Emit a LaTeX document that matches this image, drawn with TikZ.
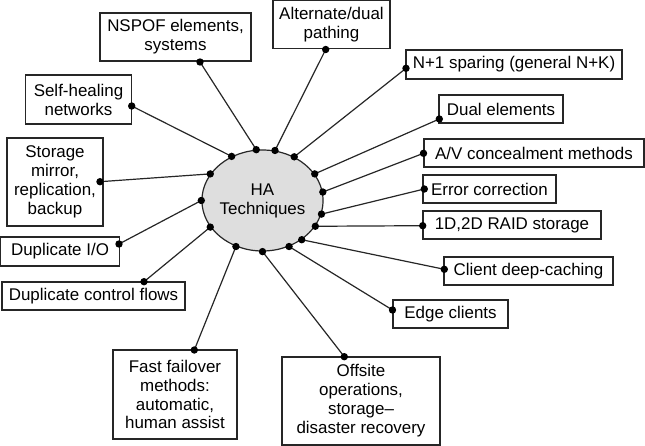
\documentclass[tikz,border=0pt]{standalone}
\usepackage{fontspec}
\setmainfont{Liberation Sans}
\usetikzlibrary{shapes.geometric}
\begin{document}
\begin{tikzpicture}[x=1bp,y=-1bp,
  txt/.style={font=\fontsize{17}{19}\selectfont},
  box/.style={txt, draw=black!85, line width=1.2bp, inner sep=0pt, align=center},
  conn/.style={line width=1.2bp, draw=black!85},
  dotc/.style={fill=black}]
\useasboundingbox (0,0) rectangle (645,446);
% centre
\node[ellipse, draw=black!85, fill=black!13, line width=1.2bp, minimum width=113bp, minimum height=101bp,
      inner sep=0pt, align=center, txt] (E) at (262.5,200.5) {HA\\Techniques};
% boxes
\node[box, minimum width=151bp, minimum height=48bp] (nspof) at (175.5,37) {NSPOF elements,\\systems};
\node[box, minimum width=117bp, minimum height=48bp] (alt) at (331.5,24.3) {Alternate/dual\\pathing};
\node[box, minimum width=216bp, minimum height=29bp] (np1) at (514,64.5) {N+1 sparing (general N+K)};
\node[box, minimum width=124bp, minimum height=28bp] (dual) at (501,109) {Dual elements};
\node[box, minimum width=220bp, minimum height=28bp] (av) at (534,153) {A/V concealment methods};
\node[box, minimum width=133bp, minimum height=28bp] (err) at (489.5,189) {Error correction};
\node[box, minimum width=178bp, minimum height=28bp] (raid) at (512,225) {1D,2D RAID storage};
\node[box, minimum width=169bp, minimum height=28bp] (cli) at (528.5,271) {Client deep-caching};
\node[box, minimum width=115bp, minimum height=28bp] (edge) at (450.5,314) {Edge clients};
\node[box, minimum width=158bp, minimum height=88bp] (off) at (361,401) {Offsite\\operations,\\storage--\\disaster recovery};
\node[box, minimum width=124bp, minimum height=89bp] (fast) at (175,394.5) {Fast failover\\methods:\\automatic,\\human assist};
\node[box, minimum width=183bp, minimum height=28bp] (dcf) at (93.5,296) {Duplicate control flows};
\node[box, minimum width=118.5bp, minimum height=29bp] (dio) at (60,251.5) {Duplicate I/O};
\node[box, minimum width=96bp, minimum height=88bp] (stor) at (55,182) {Storage\\mirror,\\replication,\\backup};
\node[box, minimum width=106bp, minimum height=49bp] (self) at (78.5,99.5) {Self-healing\\networks};
% connector ends on boxes
\coordinate (pnspof) at (200,62);
\coordinate (palt) at (325.7,49.5);
\coordinate (pnp1) at (406,68.3);
\coordinate (pdual) at (439.3,119);
\coordinate (pav) at (423.5,153.3);
\coordinate (perr) at (424.3,189);
\coordinate (praid) at (422.7,225.7);
\coordinate (pcli) at (444.3,269.3);
\coordinate (pedge) at (392.5,310);
\coordinate (poff) at (344.3,356.7);
\coordinate (pfast) at (194.3,350);
\coordinate (pdcf) at (144,281.7);
\coordinate (pdio) at (119,244);
\coordinate (pstor) at (100,181.7);
\coordinate (pself) at (131.7,106);
% connectors
\foreach \a/\p in {125/pself, 97/pnspof, 76/palt, 54/pnp1, 27/pdual, 8/pav, 347/perr, 334/praid,
                   315/pcli, 300/pedge, 270/poff, 240/pfast, 207/pdcf, 180/pdio, 153/pstor}{
  \draw[conn] (E.\a) -- (\p);
  \fill[dotc] (E.\a) circle (3.7bp);
  \fill[dotc] (\p) circle (3.7bp);
}
\end{tikzpicture}
\end{document}
